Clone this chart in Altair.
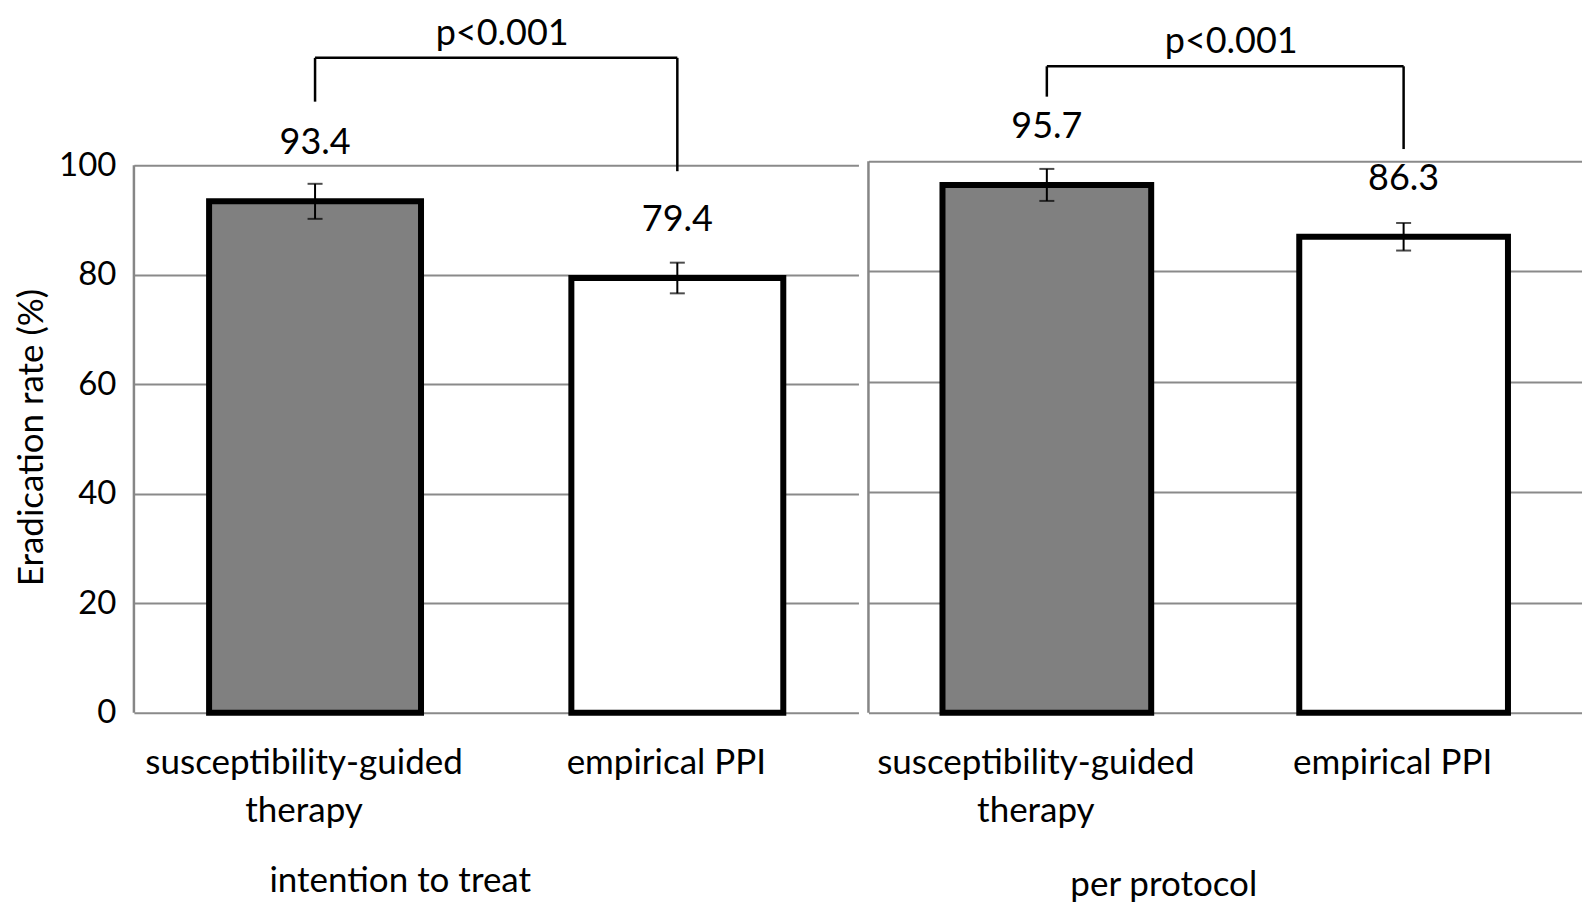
import altair as alt
import pandas as pd

# ---- data ----
therapies = ["susceptibility-guided\ntherapy", "empirical PPI"]
panel_titles = ["intention to treat", "per protocol"]
rates_itt = [93.4, 79.4]
rates_pp = [95.7, 86.3]
err_itt = [3.2, 2.8]
err_pp = [2.9, 2.5]
p_labels = ["p<0.001", "p<0.001"]
# significance bracket levels (in % units): top bar, left foot, right foot
bracket_top = [119.6, 117.2]
bracket_left_foot = [111.6, 111.7]
bracket_right_foot = [98.9, 102.2]
y_ticks = [0, 20, 40, 60, 80, 100]

FONT = "Lato"
H = 552
W_LEFT = 725
W_RIGHT = 714
GRID = "#8a8a8a"


def panel(idx, width, y_max, show_y):
    rates = [rates_itt, rates_pp][idx]
    errs = [err_itt, err_pp][idx]
    df = pd.DataFrame({"therapy": therapies, "rate": rates, "err": errs})
    df["lo"] = df["rate"] - df["err"]
    df["hi"] = df["rate"] + df["err"]
    br = pd.DataFrame({
        "a": [therapies[0]], "b": [therapies[1]],
        "top": [bracket_top[idx]], "lf": [bracket_left_foot[idx]],
        "rf": [bracket_right_foot[idx]], "p": [p_labels[idx]],
    })
    frame = pd.DataFrame({"v0": [0], "v1": [100]})

    xs = alt.Scale(domain=therapies, paddingInner=0.415, paddingOuter=0.2075)
    ys = alt.Scale(domain=[0, y_max], nice=False, zero=True)

    x_axis = alt.Axis(
        title=panel_titles[idx], labelExpr="split(datum.label, '\\n')",
        labelAngle=0, labelFont=FONT, labelFontSize=35, labelLineHeight=48,
        labelPadding=33, labelOffset=-11, labelColor="black", labelLimit=600,
        ticks=False, tickSize=0, domain=False, grid=False,
        titleFont=FONT, titleFontSize=35, titleFontWeight="normal", titleColor="black",
        titleX=[266, 295][idx], titleY=[168, 172][idx], titleAlign="center",
        titleBaseline="middle", titleLimit=600,
    )
    if show_y:
        y_axis = alt.Axis(
            values=y_ticks, grid=True, gridColor=GRID, gridWidth=2,
            domain=False, ticks=False, labelPadding=18, labelFont=FONT,
            labelFontSize=33, labelColor="black",
            title="Eradication rate (%)", titleFont=FONT, titleFontSize=35,
            titleFontWeight="normal", titleColor="black", titleX=-102,
            titleBaseline="middle", titleLimit=700,
        )
    else:
        y_axis = alt.Axis(values=y_ticks, grid=True, gridColor=GRID, gridWidth=2,
                          domain=False, ticks=False, labels=False, title=None)

    def X(f):
        return alt.X(f, scale=xs, axis=x_axis, sort=therapies)

    def Y(f):
        return alt.Y(f, scale=ys, axis=y_axis)

    base = alt.Chart(df)
    bars = base.mark_bar(stroke="black", strokeWidth=6).encode(
        x=X("therapy:N"),
        y=Y("rate:Q"),
        color=alt.Color("therapy:N", scale=alt.Scale(domain=therapies, range=["#808080", "#ffffff"]), legend=None),
    )
    vline = alt.Chart(frame).mark_rule(color="#868686", strokeWidth=2.5).encode(
        x=alt.value(0),
        y=Y("v0:Q"),
        y2="v1:Q",
    )
    err = base.mark_rule(color="black", strokeWidth=2).encode(
        x=X("therapy:N"), y=Y("lo:Q"), y2="hi:Q",
    )
    cap_lo = base.mark_tick(color="black", thickness=2, size=15).encode(
        x=X("therapy:N"), y=Y("lo:Q"),
    )
    cap_hi = base.mark_tick(color="black", thickness=2, size=15).encode(
        x=X("therapy:N"), y=Y("hi:Q"),
    )
    vals = base.mark_text(font=FONT, fontSize=36, color="black", dy=-58, baseline="middle").encode(
        x=X("therapy:N"), y=Y("rate:Q"),
        text=alt.Text("rate:Q", format=".1f"),
    )
    bb = alt.Chart(br)
    b_top = bb.mark_rule(color="black", strokeWidth=2.5).encode(
        x=X("a:N"), x2="b:N", y=Y("top:Q"),
    )
    b_left = bb.mark_rule(color="black", strokeWidth=2.5).encode(
        x=X("a:N"), y=Y("lf:Q"), y2="top:Q",
    )
    b_right = bb.mark_rule(color="black", strokeWidth=2.5).encode(
        x=X("b:N"), y=Y("rf:Q"), y2="top:Q",
    )
    ptxt = bb.mark_text(font=FONT, fontSize=36, color="black", baseline="middle",
                        dx=width / 4 + 6, dy=-24).encode(
        x=X("a:N"), y=Y("top:Q"), text="p:N",
    )
    return alt.layer(bars, vline, err, cap_lo, cap_hi, vals, b_top, b_left, b_right, ptxt).properties(
        width=width, height=H
    )


left = panel(0, W_LEFT, 100 * H / (H - 4), True)
right = panel(1, W_RIGHT, 100, False)

chart = alt.hconcat(left, right, spacing=10, bounds="flush").resolve_scale(
    x="independent", y="independent"
).configure(font=FONT, background="white").configure_view(stroke=None).properties(
    padding={"left": 7, "right": 0, "top": 7, "bottom": 0}
)

chart.save("out.html", embed_options={"renderer": "svg", "actions": False})
